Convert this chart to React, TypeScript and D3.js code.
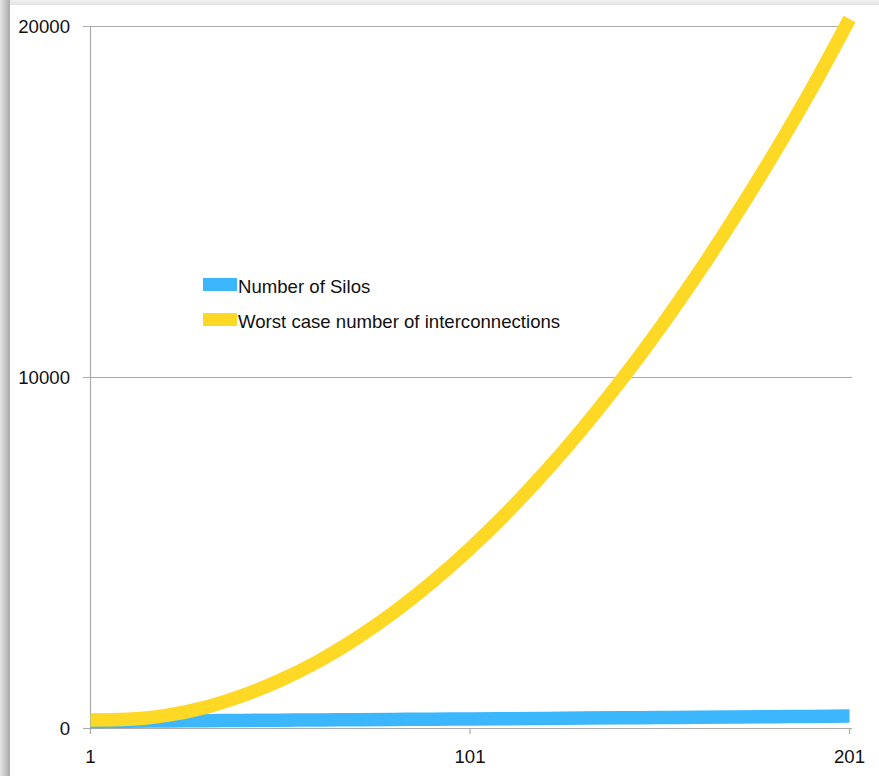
import React, { useEffect, useRef } from 'react';
import * as d3 from 'd3';

// x categories (read every 10 steps)
const categories = [1, 11, 21, 31, 41, 51, 61, 71, 81, 91, 101, 111, 121, 131, 141, 151, 161, 171, 181, 191, 201];

const silos = [185, 193, 200, 208, 215, 223, 230, 238, 245, 252, 258, 266, 274, 282, 290, 298, 306, 314, 322, 331, 340];

const interconnections = [
  230, 250, 360, 580, 920, 1360, 1900, 2550, 3300, 4155, 5110,
  6165, 7320, 8575, 9930, 11385, 12940, 14595, 16350, 18205, 20200,
];

const seriesNames = ['Number of Silos', 'Worst case number of interconnections'];
const seriesColors = ['#3cb6fd', '#fdd824'];

const xTickValues = [1, 101, 201];
const yTickValues = [0, 10000, 20000];

const App: React.FC = () => {
  const svgRef = useRef<SVGSVGElement | null>(null);

  useEffect(() => {
    const totalWidth = 879;
    const totalHeight = 776;
    const font = '"Liberation Sans", Arial, Helvetica, sans-serif';

    const svg = d3.select(svgRef.current)
      .attr('width', totalWidth)
      .attr('height', totalHeight);
    svg.selectAll('*').remove();

    // card shadow
    const defs = svg.append('defs');
    const leftGrad = defs.append('linearGradient').attr('id', 'leftShadow')
      .attr('x1', '0').attr('x2', '1').attr('y1', '0').attr('y2', '0');
    leftGrad.append('stop').attr('offset', '0%').attr('stop-color', '#e6e6e6');
    leftGrad.append('stop').attr('offset', '100%').attr('stop-color', '#a9a9a9');
    const topGrad = defs.append('linearGradient').attr('id', 'topShadow')
      .attr('x1', '0').attr('x2', '0').attr('y1', '0').attr('y2', '1');
    topGrad.append('stop').attr('offset', '0%').attr('stop-color', '#f2f2f2');
    topGrad.append('stop').attr('offset', '100%').attr('stop-color', '#e2e2e2');

    svg.append('rect').attr('width', totalWidth).attr('height', totalHeight).attr('fill', '#ffffff');
    svg.append('rect').attr('x', 0).attr('y', 0).attr('width', totalWidth).attr('height', 5)
      .attr('fill', 'url(#topShadow)');
    svg.append('rect').attr('x', 0).attr('y', 0).attr('width', 10).attr('height', totalHeight)
      .attr('fill', 'url(#leftShadow)');

    const xScale = d3.scaleLinear().domain([1, 201]).range([90.5, 849.5]);
    const yScale = d3.scaleLinear().domain([0, 20000]).range([728, 26]);

    const left = 83;
    const right = 852;
    const axisColor = '#ababab';

    // gridlines
    svg.append('g')
      .selectAll('line')
      .data(yTickValues.filter(v => v > 0))
      .enter().append('line')
      .attr('x1', left).attr('x2', right)
      .attr('y1', d => Math.round(yScale(d)) + 0.5)
      .attr('y2', d => Math.round(yScale(d)) + 0.5)
      .attr('stroke', axisColor)
      .attr('stroke-width', 1.2);

    // x axis line + ticks
    svg.append('line')
      .attr('x1', left).attr('x2', right)
      .attr('y1', yScale(0) + 0.5).attr('y2', yScale(0) + 0.5)
      .attr('stroke', axisColor).attr('stroke-width', 1.2);
    svg.append('g')
      .selectAll('line')
      .data(xTickValues)
      .enter().append('line')
      .attr('x1', d => xScale(d)).attr('x2', d => xScale(d))
      .attr('y1', yScale(0)).attr('y2', yScale(0) + 6)
      .attr('stroke', axisColor).attr('stroke-width', 1.2);

    // y axis line
    svg.append('line')
      .attr('x1', xScale(1)).attr('x2', xScale(1))
      .attr('y1', yScale(20000)).attr('y2', yScale(0) + 6)
      .attr('stroke', axisColor).attr('stroke-width', 1.2);

    // tick labels
    svg.append('g')
      .selectAll('text')
      .data(yTickValues)
      .enter().append('text')
      .attr('x', 70)
      .attr('y', d => yScale(d) + 7)
      .attr('text-anchor', 'end')
      .style('font-family', font)
      .style('font-size', '18.6px')
      .attr('fill', '#111')
      .text(d => String(d));

    svg.append('g')
      .selectAll('text')
      .data(xTickValues)
      .enter().append('text')
      .attr('x', d => xScale(d))
      .attr('y', 763)
      .attr('text-anchor', 'middle')
      .style('font-family', font)
      .style('font-size', '18.6px')
      .attr('fill', '#111')
      .text(d => String(d));

    // lines
    const line = d3.line<number>()
      .x((_, i) => xScale(categories[i]))
      .y(d => yScale(d))
      .curve(d3.curveMonotoneX);

    [silos, interconnections].forEach((values, i) => {
      svg.append('path')
        .datum(values)
        .attr('d', line)
        .attr('fill', 'none')
        .attr('stroke', seriesColors[i])
        .attr('stroke-width', 13.5)
        .attr('stroke-linecap', 'butt')
        .attr('stroke-linejoin', 'round');
    });

    // legend
    const legend = svg.append('g');
    seriesNames.forEach((name, i) => {
      const y = 278 + i * 35;
      legend.append('rect')
        .attr('x', 203).attr('y', y)
        .attr('width', 34).attr('height', 13)
        .attr('fill', seriesColors[i]);
      legend.append('text')
        .attr('x', 238).attr('y', y + 15)
        .style('font-family', font)
        .style('font-size', '18.6px')
        .attr('fill', '#111')
        .text(name);
    });
  }, []);

  return (
    <svg ref={svgRef} style={{ position: 'absolute', left: 0, top: 0, display: 'block' }}></svg>
  );
};

export default App;
